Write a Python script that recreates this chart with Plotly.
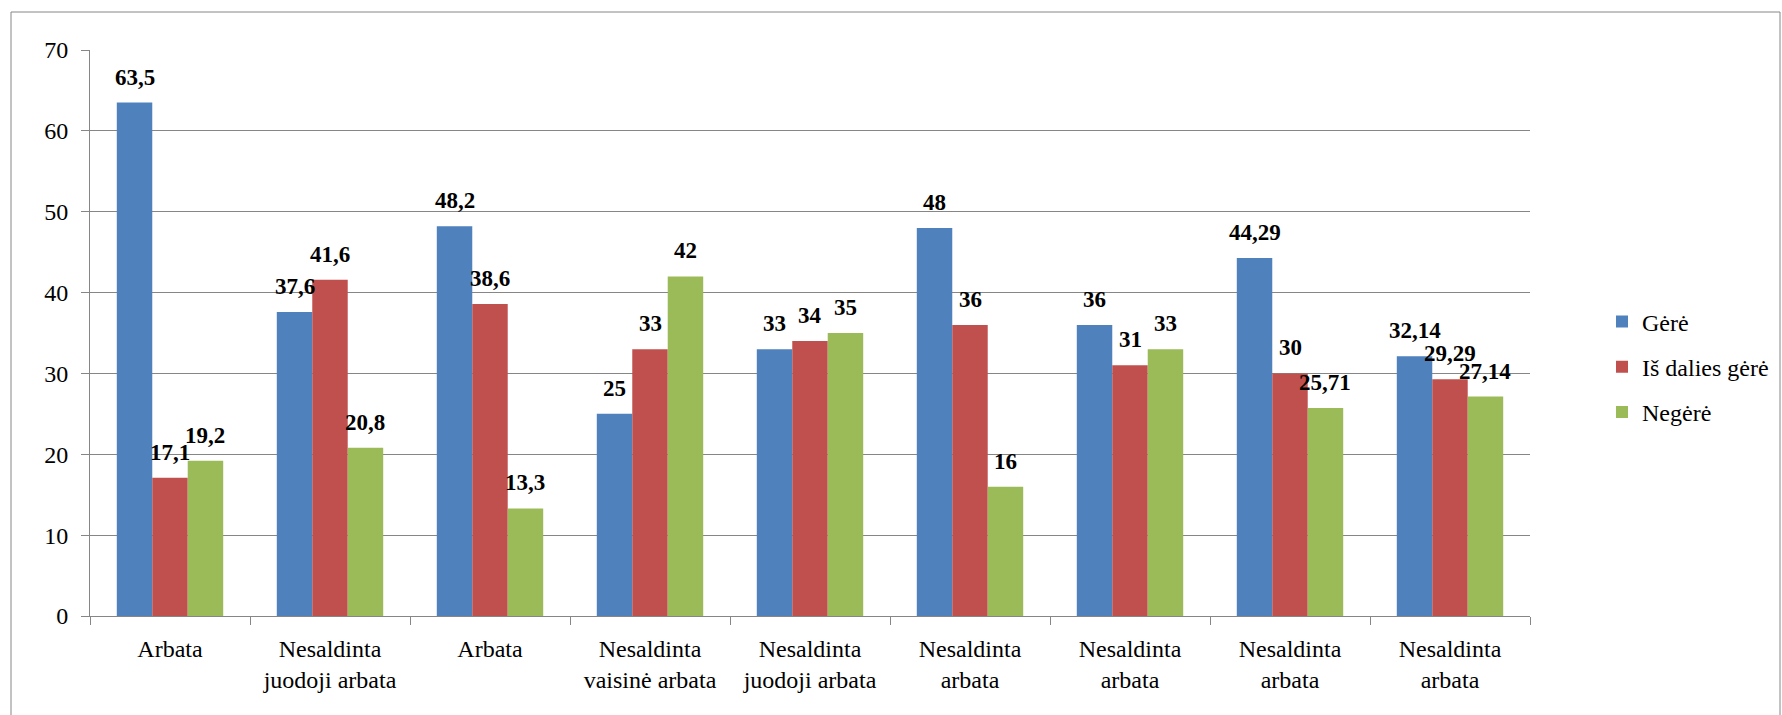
import plotly.graph_objects as go

# Categories along the x axis (labels repeat, so bars are placed by index)
categories = [
    "Arbata",
    "Nesaldinta<br>juodoji arbata",
    "Arbata",
    "Nesaldinta<br>vaisinė arbata",
    "Nesaldinta<br>juodoji arbata",
    "Nesaldinta<br>arbata",
    "Nesaldinta<br>arbata",
    "Nesaldinta<br>arbata",
    "Nesaldinta<br>arbata",
]

series_names = ["Gėrė", "Iš dalies gėrė", "Negėrė"]
gere = [63.5, 37.6, 48.2, 25, 33, 48, 36, 44.29, 32.14]
is_dalies_gere = [17.1, 41.6, 38.6, 33, 34, 36, 31, 30, 29.29]
negere = [19.2, 20.8, 13.3, 42, 35, 16, 33, 25.71, 27.14]

y_ticks = [0, 10, 20, 30, 40, 50, 60, 70]

colors = ["#4F81BD", "#C0504D", "#9BBB59"]
grid = "#868686"
FONT = "'Liberation Serif', 'Times New Roman', 'DejaVu Serif', serif"

W, H = 1782, 715
L, R, T, B = 90, 252, 50, 99
BARGAP = 0.335

x_idx = list(range(len(categories)))
series = [gere, is_dalies_gere, negere]

fig = go.Figure()
for k, (name, vals) in enumerate(zip(series_names, series)):
    fig.add_trace(go.Bar(
        x=x_idx, y=vals, name=name,
        marker=dict(color=colors[k], line=dict(width=0)),
        legendgroup=name,
        hoverinfo="skip",
    ))

# Value labels above each bar, offset to the bar's slot inside its group
bw = (1 - BARGAP) / len(series)
annotations = []
for k, vals in enumerate(series):
    off = (k - (len(series) - 1) / 2) * bw
    for i, v in enumerate(vals):
        annotations.append(dict(
            x=i + off, y=v, xref="x", yref="y",
            text="<b>" + f"{v:g}".replace(".", ",") + "</b>",
            showarrow=False, yanchor="bottom", xanchor="center",
            yshift=11,
            font=dict(family=FONT, size=23, color="black"),
        ))

pw = W - L - R
ph = H - T - B
def px_x(p):
    return (p - L) / pw
def px_y(p):
    return (H - B - p) / ph

fig.update_layout(
    width=W, height=H,
    margin=dict(l=L, r=R, t=T, b=B, autoexpand=False),
    paper_bgcolor="white", plot_bgcolor="white",
    barmode="group", bargap=BARGAP, bargroupgap=0,
    font=dict(family=FONT, size=24, color="black"),
    showlegend=True,
    legend=dict(
        x=px_x(1602), xanchor="left",
        y=px_y(367), yanchor="middle",
        traceorder="grouped", tracegroupgap=11,
        font=dict(family=FONT, size=24, color="black"),
        itemwidth=30, bgcolor="rgba(0,0,0,0)",
    ),
    xaxis=dict(
        range=[-0.5, len(categories) - 0.5],
        tickmode="array", tickvals=x_idx, ticktext=categories,
        ticks="", showgrid=False, zeroline=False,
        showline=True, linecolor=grid, linewidth=1,
        tickfont=dict(family=FONT, size=24, color="black"),
        ticklabelstandoff=11,
        minor=dict(tick0=-0.5, dtick=1, ticks="outside", ticklen=8,
                   tickcolor=grid, tickwidth=1, showgrid=False),
        fixedrange=True,
    ),
    yaxis=dict(
        range=[0, 70], tickmode="array", tickvals=y_ticks,
        ticks="outside", ticklen=8, tickcolor=grid, tickwidth=1,
        showgrid=True, gridcolor=grid, gridwidth=1,
        zeroline=False, showline=True, linecolor=grid, linewidth=1,
        tickfont=dict(family=FONT, size=24, color="black"),
        ticklabelstandoff=8,
        fixedrange=True,
    ),
    annotations=annotations,
    shapes=[dict(
        type="rect", xref="paper", yref="paper",
        x0=px_x(11), x1=px_x(1780), y0=px_y(740), y1=px_y(12),
        line=dict(color=grid, width=1), layer="below",
    )],
)

fig.write_html("out.html", config={"displayModeBar": False})
